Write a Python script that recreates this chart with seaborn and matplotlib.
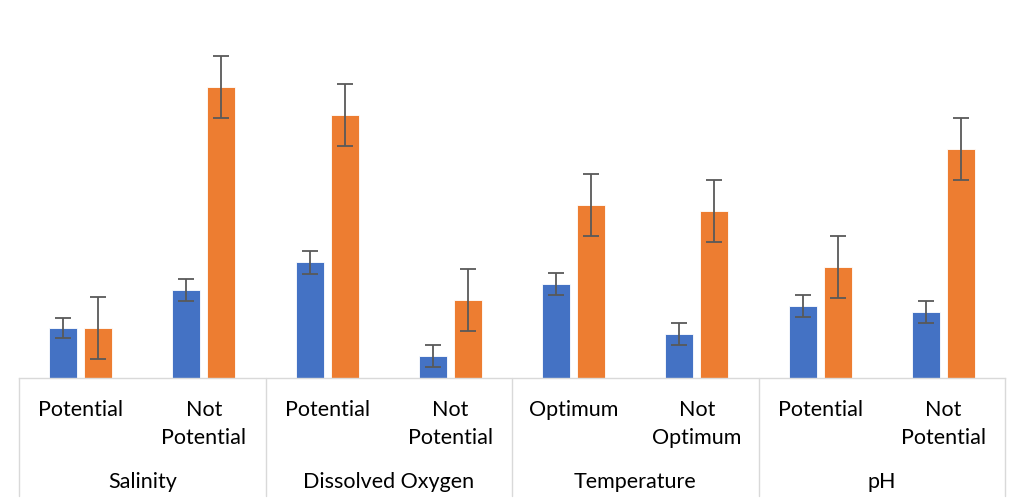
import matplotlib.pyplot as plt
import seaborn as sns
import pandas as pd
from matplotlib.lines import Line2D

# groups and their two sub-categories
groups = ['Salinity', 'Dissolved Oxygen', 'Temperature', 'pH']
sub_labels = ['Potential', 'Not\nPotential', 'Potential', 'Not\nPotential',
              'Optimum', 'Not\nOptimum', 'Potential', 'Not\nPotential']

# two series (no axis shown, values read as relative heights)
series_a = [50, 88, 116, 22, 94, 44, 72, 66]
series_b = [50, 291, 263, 78, 173, 167, 111, 229]
err_a = [10, 11, 11.5, 11, 11, 11, 11, 11]
err_b = [31, 31, 31, 31, 31, 31, 31, 31]

cats = [f'c{i}' for i in range(len(sub_labels))]
df = pd.DataFrame({
    'cat': cats * 2,
    'value': series_a + series_b,
    'series': ['A'] * len(cats) + ['B'] * len(cats),
})

sns.set_style('white')
plt.rcParams['font.family'] = ['Lato', 'DejaVu Sans']

fig = plt.figure(figsize=(10.13, 5.03), dpi=100)
ax = fig.add_axes([19 / 1013, 125 / 503, 986 / 1013, 363 / 503])

sns.barplot(data=df, x='cat', y='value', hue='series', order=cats,
            palette=['#4472C4', '#ED7D31'], saturation=1, width=0.57, gap=0.2,
            errorbar=None, legend=False, ax=ax,
            edgecolor='#ffffff', linewidth=0.6)

for cont, errs in zip(ax.containers, [err_a, err_b]):
    xs = [p.get_x() + p.get_width() / 2 for p in cont]
    ys = [p.get_height() for p in cont]
    ax.errorbar(xs, ys, yerr=errs, fmt='none', ecolor='#595959',
                elinewidth=1.3, capsize=6, capthick=1.3, zorder=5)

ax.set_ylim(0, 363)
ax.set_xlim(-0.5, len(cats) - 0.5)
ax.set_xticks([])
ax.set_yticks([])
ax.set_xlabel('')
ax.set_ylabel('')
for s in ['top', 'right', 'left']:
    ax.spines[s].set_visible(False)
ax.spines['bottom'].set_color('#d9d9d9')
ax.spines['bottom'].set_linewidth(1.0)

trans = ax.get_xaxis_transform()
for i, lab in enumerate(sub_labels):
    ax.annotate(lab, xy=(i, 0), xycoords=trans, xytext=(0, -15.5),
                textcoords='offset points', ha='center', va='top',
                fontsize=15.5, color='#000000', linespacing=1.55)

for g, name in enumerate(groups):
    ax.annotate(name, xy=(2 * g + 0.5, 0), xycoords=trans, xytext=(0, -68),
                textcoords='offset points', ha='center', va='top',
                fontsize=15.5, color='#000000')

# separators of the category axis
sep_h = 118 / 363
for k in range(len(groups) + 1):
    x = -0.5 + 2 * k
    ax.add_line(Line2D([x, x], [0, -sep_h], transform=trans,
                       color='#d9d9d9', linewidth=1.0, clip_on=False))

fig.savefig('out.png', dpi=100)
